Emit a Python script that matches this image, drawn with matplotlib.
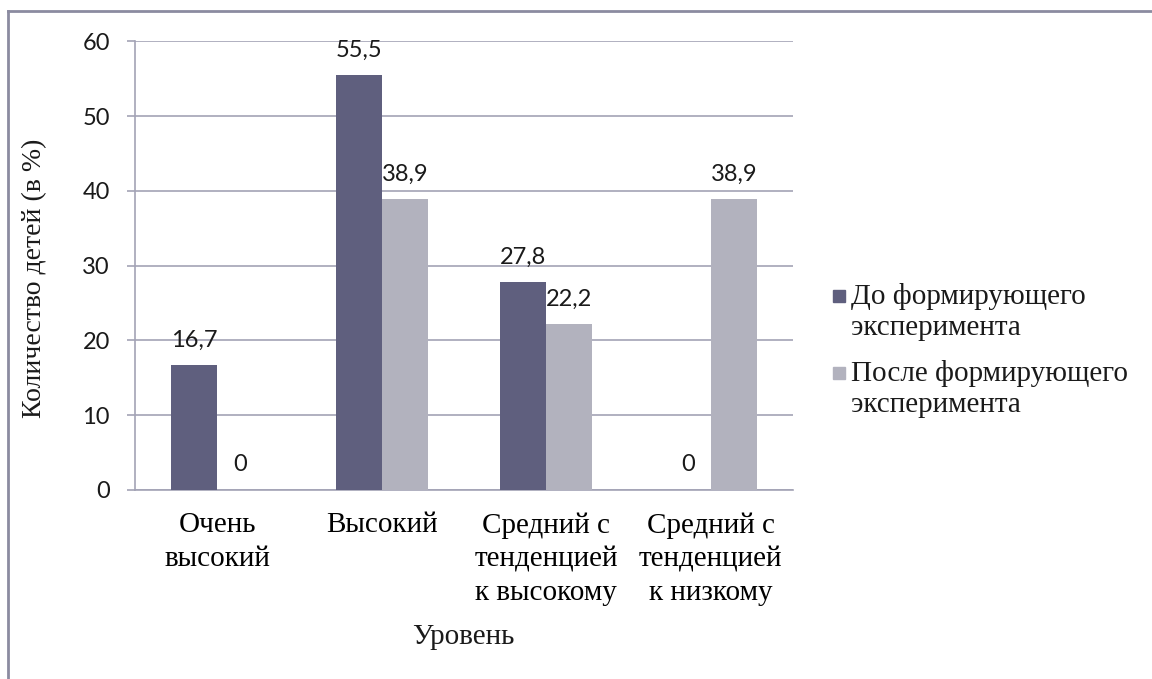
import matplotlib
matplotlib.use("Agg")
import matplotlib.pyplot as plt
from matplotlib.patches import Rectangle
from matplotlib.lines import Line2D
import numpy as np

categories = ["Очень\nвысокий", "Высокий", "Средний с\nтенденцией\nк высокому", "Средний с\nтенденцией\nк низкому"]
before = [16.7, 55.5, 27.8, 0]
after = [0, 38.9, 22.2, 38.9]
series_names = ["До формирующего\nэксперимента", "После формирующего\nэксперимента"]
y_ticks = [0, 10, 20, 30, 40, 50, 60]

dark = "#5f5f7e"
light = "#b2b2be"
grid_col = "#a3a3b5"
serif = "Liberation Serif"
sans = "Lato"
serif_size = 21
num_size = 17

fig = plt.figure(figsize=(11.52, 6.79), dpi=100)
ax = fig.add_axes([0.1172, 0.2784, 0.5712, 0.6605])

x = np.arange(len(categories))
w = 0.28
b1 = ax.bar(x - w / 2, before, w, color=dark, zorder=3)
b2 = ax.bar(x + w / 2, after, w, color=light, zorder=3)

def fmt(v):
    s = f"{v:g}"
    return s.replace(".", ",")

for bars, vals in ((b1, before), (b2, after)):
    for rect, v in zip(bars, vals):
        ax.annotate(fmt(v), (rect.get_x() + rect.get_width() / 2, v),
                    xytext=(0, 10.5), textcoords="offset points",
                    ha="center", va="bottom", fontsize=num_size, family=sans,
                    color="#1a1a1a", zorder=4)

ax.set_xlim(-0.5, len(categories) - 0.5)
ax.set_ylim(0, 60)
ax.set_yticks(y_ticks)
ax.set_yticklabels([str(t) for t in y_ticks], family=sans, fontsize=num_size, color="#1a1a1a")
ax.tick_params(axis="y", length=6, width=1.2, color=grid_col, pad=12)
ax.set_xticks(x)
ax.set_xticklabels(categories, family=serif, fontsize=serif_size, linespacing=1.38, va="top")
ax.tick_params(axis="x", length=0, pad=16)

ax.yaxis.grid(True, color=grid_col, linewidth=1.2, zorder=0)
ax.set_axisbelow(True)
for s in ("top", "right"):
    ax.spines[s].set_visible(False)
ax.spines["left"].set_color(grid_col)
ax.spines["bottom"].set_color(grid_col)
ax.spines["left"].set_linewidth(1.2)
ax.spines["bottom"].set_linewidth(1.2)

W, H = 1152, 679
def fx(px):
    return px / W
def fy(py):
    return 1 - py / H

# axis titles
fig.text(fx(463), fy(637), "Уровень", family=serif, fontsize=serif_size,
         ha="center", va="center", color="#1a1a1a")
fig.text(fx(35), fy(278), "Количество детей (в %)", family=serif, fontsize=20,
         ha="center", va="center", rotation=90, color="#1a1a1a")

# legend
for color, name, ycen in ((dark, series_names[0], 296), (light, series_names[1], 373)):
    fig.patches.append(Rectangle((fx(833), fy(ycen + 6)), 12 / W, 12 / H,
                                 transform=fig.transFigure, color=color))
    fig.text(fx(851), fy(ycen - 13), name, family=serif, fontsize=serif_size,
             ha="left", va="top", linespacing=1.25, color="#1a1a1a")

# frame lines along the left and top edges
border = "#8b8ba0"
fig.add_artist(Line2D([fx(8), fx(8)], [fy(11), 0], transform=fig.transFigure,
                      color=border, linewidth=2))
fig.add_artist(Line2D([fx(8), 1], [fy(11), fy(11)], transform=fig.transFigure,
                      color=border, linewidth=2))

fig.savefig("out.png", dpi=100, facecolor="white")
